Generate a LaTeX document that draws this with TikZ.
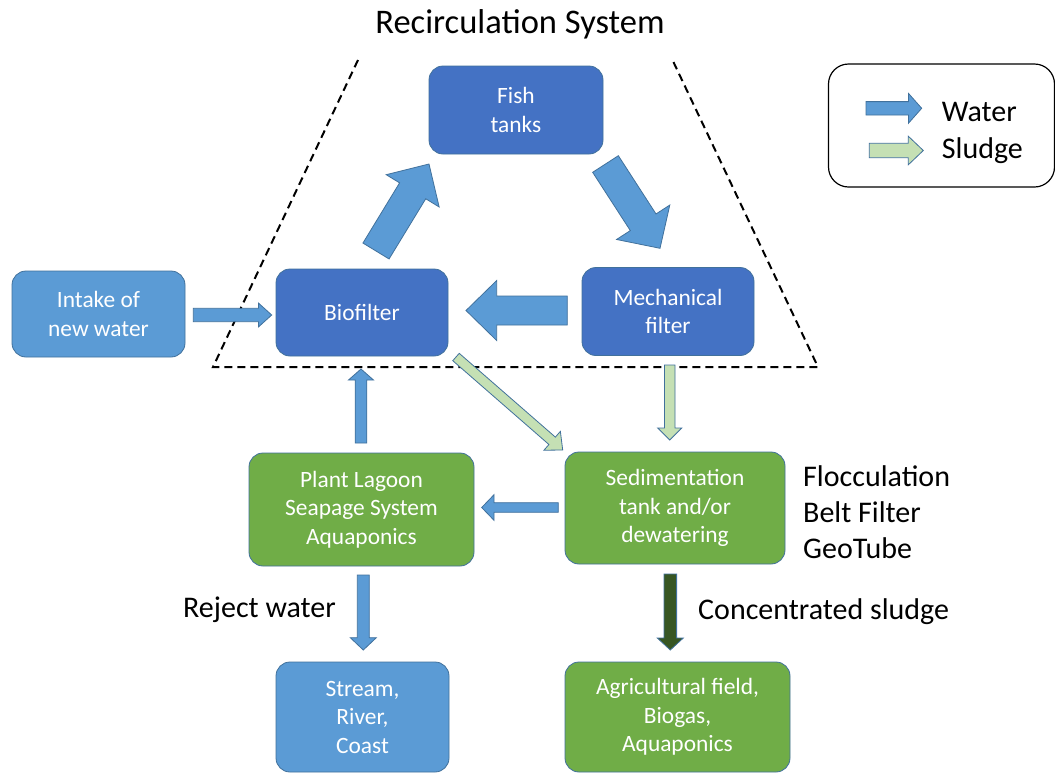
\documentclass[tikz,border=0pt]{standalone}
\usepackage{fontspec}
\setmainfont{Carlito}
\usetikzlibrary{calc}
\definecolor{cdark}{HTML}{4472C4}
\definecolor{clight}{HTML}{5B9BD5}
\definecolor{cgreen}{HTML}{70AD47}
\definecolor{cedge}{HTML}{41719C}
\definecolor{csludge}{HTML}{C5E0B4}
\definecolor{cdeep}{HTML}{375623}
\newcommand\barrow[6]{%
  \coordinate (hb) at ($(#3)!#6!(#2)$);
  \filldraw[#1] ($(#2)!#4!90:(#3)$) -- ($(hb)!#4!90:(#3)$) -- ($(hb)!#5!90:(#3)$) -- (#3)
    -- ($(hb)!#5!-90:(#3)$) -- ($(hb)!#4!-90:(#3)$) -- ($(#2)!#4!-90:(#3)$) -- cycle;}
\tikzset{
  box/.style={rectangle, rounded corners=14pt, draw=cedge, line width=0.8pt, text=white,
    align=center, inner sep=0pt, font=\fontsize{23.4}{28.5}\selectfont},
  darkbox/.style={box, fill=cdark},
  lightbox/.style={box, fill=clight},
  greenbox/.style={box, fill=cgreen},
  water/.style={fill=clight, draw=cedge, line width=0.8pt, line join=miter},
  sludge/.style={fill=csludge, draw=cedge, line width=0.8pt, line join=miter},
  deep/.style={fill=cdeep, draw=cedge, line width=0.8pt, line join=miter},
  sidelabel/.style={anchor=west, inner sep=0pt, font=\fontsize{30}{36}\selectfont},
  border/.style={dashed, dash pattern=on 8pt off 5pt, line width=2pt}
}
\begin{document}
\begin{tikzpicture}[x=1pt, y=-1pt]
\useasboundingbox (0,0) rectangle (1055,772);
\fill[white] (0,0) rectangle (1055,772);

% title and recirculation border
\node[font=\fontsize{34.5}{40}\selectfont, inner sep=0pt] (title) at (520,24) {Recirculation System};
\coordinate (tl) at (358,60);
\coordinate (bl) at (213,367);
\coordinate (br) at (818,367);
\coordinate (tr) at (672,59);
\draw[border] (tl) -- (bl) -- (br) -- (tr);

% boxes
\node[darkbox, minimum width=174pt, minimum height=88pt] (fish) at (516,110) {Fish\\tanks};
\node[darkbox, minimum width=172pt, minimum height=87pt] (bio) at (362,312.5) {Biofilter};
\node[darkbox, minimum width=172pt, minimum height=88pt] (mech) at (668,311.5) {Mechanical\\filter};
\node[lightbox, minimum width=173pt, minimum height=86pt] (intake) at (98.5,314) {Intake of\\new water};
\node[greenbox, minimum width=225pt, minimum height=113pt] (plant) at (361.5,509.5) {Plant Lagoon\\Seapage System\\Aquaponics};
\node[greenbox, minimum width=220pt, minimum height=112pt] (sed) at (675,508) {Sedimentation\\tank and/or\\dewatering};
\node[lightbox, minimum width=173pt, minimum height=110pt] (stream) at (362.5,717) {Stream,\\River,\\Coast};
\node[greenbox, minimum width=225pt, minimum height=110pt] (agri) at (677.5,717) {Agricultural field,\\Biogas,\\Aquaponics};

% side labels
\node[sidelabel] (floc) at (803,476) {Flocculation};
\node[sidelabel] (belt) at (803,512) {Belt Filter};
\node[sidelabel] (geo) at (803,548) {GeoTube};
\node[sidelabel] (reject) at (183,610) {Reject water};
\node[sidelabel] (conc) at (698,612) {Concentrated sludge};

% connector end points
\coordinate (a1s) at (376,251);   \coordinate (a1e) at (429,164);
\coordinate (a2s) at (605.5,164); \coordinate (a2e) at (660,248.3);
\coordinate (a3s) at (567.3,310.5); \coordinate (a3e) at (466,310.5);
\coordinate (a4s) at (193.3,315); \coordinate (a4e) at (271.7,315);
\coordinate (a5s) at (361,443);   \coordinate (a5e) at (361,369);
\coordinate (a6s) at (558.3,507.5); \coordinate (a6e) at (481.7,507.5);
\coordinate (a7s) at (363.3,575); \coordinate (a7e) at (363.3,650);
\coordinate (a8s) at (456,357);   \coordinate (a8e) at (562.7,450);
\coordinate (a9s) at (669.7,365); \coordinate (a9e) at (669.7,440);
\coordinate (a10s) at (670.3,574); \coordinate (a10e) at (670.3,650);

\barrow{water}{a1s}{a1e}{15.3pt}{31pt}{31.4pt}
\barrow{water}{a2s}{a2e}{15.3pt}{31.7pt}{31pt}
\barrow{water}{a3s}{a3e}{14.5pt}{30pt}{30.7pt}
\barrow{water}{a4s}{a4e}{6.7pt}{12pt}{13.3pt}
\barrow{water}{a5s}{a5e}{5.8pt}{12.5pt}{11pt}
\barrow{water}{a6s}{a6e}{4.8pt}{12.8pt}{12.3pt}
\barrow{water}{a7s}{a7e}{6pt}{13pt}{12.3pt}
\barrow{sludge}{a8s}{a8e}{4.9pt}{12.5pt}{14pt}
\barrow{sludge}{a9s}{a9e}{5.3pt}{12pt}{12pt}
\barrow{deep}{a10s}{a10e}{6.3pt}{13pt}{12pt}

% legend
\node[draw=black, line width=1.2pt, rounded corners=20pt, minimum width=226pt, minimum height=123pt, inner sep=0pt] (legend) at (941.5,125.5) {};
\coordinate (lws) at (866,108.3);   \coordinate (lwe) at (921.7,108.3);
\coordinate (lss) at (869.3,150.5); \coordinate (lse) at (923.3,150.5);
\barrow{water}{lws}{lwe}{6.7pt}{15pt}{13.3pt}
\barrow{sludge}{lss}{lse}{7.2pt}{14.3pt}{15pt}
\node[sidelabel] (lwater) at (941.7,112) {Water};
\node[sidelabel] (lsludge) at (941.7,150.5) {Sludge};
\end{tikzpicture}
\end{document}
